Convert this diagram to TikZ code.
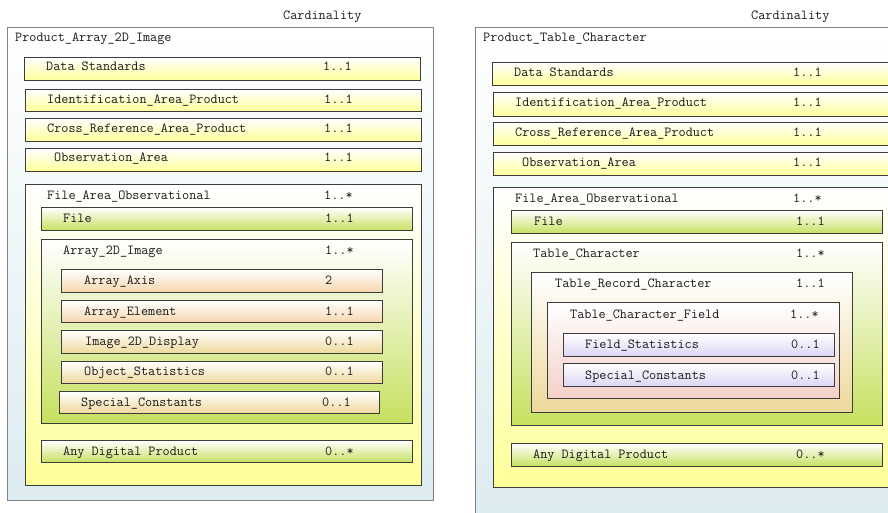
\documentclass[tikz,border=0pt]{standalone}
\usepackage{fontspec}
\definecolor{panelblue}{HTML}{DCEBF0}
\definecolor{panelline}{HTML}{7F7F7F}
\definecolor{boxline}{HTML}{3C3C3C}
\definecolor{itemyellow}{HTML}{FFFF99}
\definecolor{itemgreen}{HTML}{C6E05E}
\definecolor{itempeach}{HTML}{F6D6AC}
\definecolor{itemtan}{HTML}{EED89A}
\definecolor{itempink}{HTML}{F4D0C8}
\definecolor{itemlav}{HTML}{DCD4F4}
\definecolor{textgray}{HTML}{1A1A1A}

\tikzset{
  item/.style={draw=boxline, line width=1pt, rectangle, anchor=north west, inner sep=0pt},
  panel/.style={item, draw=panelline, top color=white, bottom color=panelblue},
  yellowbox/.style={item, top color=white, bottom color=itemyellow},
  greenbox/.style={item, top color=white, bottom color=itemgreen},
  peachbox/.style={item, top color=white, bottom color=itempeach},
  tanbox/.style={item, top color=white, bottom color=itemtan},
  pinkbox/.style={item, top color=white, bottom color=itempink},
  lavbox/.style={item, top color=white, bottom color=itemlav},
  lbl/.style={anchor=base west, inner sep=0pt, text=textgray,
    font=\ttfamily\fontsize{13.8}{16}\selectfont},
}

\begin{document}
\begin{tikzpicture}[x=1pt,y=-1pt]
\useasboundingbox (0,0) rectangle (888,513);
\clip (0,0) rectangle (888,513);

% left: Product_Array_2D_Image
\node (lcard) [lbl] at (283,20) {Cardinality};
\node (lp) [panel, minimum width=426, minimum height=473] at (7,27) {};
\node (lp-t) [lbl] at (15,42) {Product\_Array\_2D\_Image};

\node (lds) [yellowbox, minimum width=396, minimum height=23] at (24,57) {};
\node (lds-t) [lbl] at (46,71) {Data Standards};
\node (lds-c) [lbl] at (323,71) {1..1};
\node (liap) [yellowbox, minimum width=396, minimum height=22] at (25,89) {};
\node (liap-t) [lbl] at (47,104) {Identification\_Area\_Product};
\node (liap-c) [lbl] at (324,104) {1..1};
\node (lcrap) [yellowbox, minimum width=396, minimum height=23] at (25,118) {};
\node (lcrap-t) [lbl] at (47,133) {Cross\_Reference\_Area\_Product};
\node (lcrap-c) [lbl] at (324,133) {1..1};
\node (loa) [yellowbox, minimum width=396, minimum height=23] at (25,148) {};
\node (loa-t) [lbl] at (54,162) {Observation\_Area};
\node (loa-c) [lbl] at (324,162) {1..1};

\node (lfao) [yellowbox, minimum width=396, minimum height=301] at (25,184) {};
\node (lfao-t) [lbl] at (47,199) {File\_Area\_Observational};
\node (lfao-c) [lbl] at (324,199) {1..*};
\node (lfile) [greenbox, minimum width=371, minimum height=23] at (41,207) {};
\node (lfile-t) [lbl] at (63,222) {File};
\node (lfile-c) [lbl] at (325,222) {1..1};

\node (la2d) [greenbox, minimum width=371, minimum height=184] at (41,239) {};
\node (la2d-t) [lbl] at (63,254) {Array\_2D\_Image};
\node (la2d-c) [lbl] at (325,254) {1..*};
\node (lax) [peachbox, minimum width=321, minimum height=23] at (61,269) {};
\node (lax-t) [lbl] at (84,284) {Array\_Axis};
\node (lax-c) [lbl] at (325,284) {2};
\node (lae) [peachbox, minimum width=321, minimum height=22] at (61,300) {};
\node (lae-t) [lbl] at (84,315) {Array\_Element};
\node (lae-c) [lbl] at (325,315) {1..1};
\node (li2d) [tanbox, minimum width=321, minimum height=23] at (61,330) {};
\node (li2d-t) [lbl] at (85,345) {Image\_2D\_Display};
\node (li2d-c) [lbl] at (325,345) {0..1};
\node (los) [tanbox, minimum width=321, minimum height=22] at (61,361) {};
\node (los-t) [lbl] at (84,375) {Object\_Statistics};
\node (los-c) [lbl] at (325,375) {0..1};
\node (lsc) [tanbox, minimum width=320, minimum height=22] at (59,391) {};
\node (lsc-t) [lbl] at (81,406) {Special\_Constants};
\node (lsc-c) [lbl] at (322,406) {0..1};

\node (ladp) [greenbox, minimum width=371, minimum height=22] at (41,440) {};
\node (ladp-t) [lbl] at (63,455) {Any Digital Product};
\node (ladp-c) [lbl] at (325,455) {0..*};

% right: Product_Table_Character
\node (rcard) [lbl] at (751,20) {Cardinality};
\node (rp) [panel, minimum width=430, minimum height=500] at (475,27) {};
\node (rp-t) [lbl] at (483,42) {Product\_Table\_Character};

\node (rds) [yellowbox, minimum width=410, minimum height=23] at (492,62) {};
\node (rds-t) [lbl] at (514,77) {Data Standards};
\node (rds-c) [lbl] at (793,77) {1..1};
\node (riap) [yellowbox, minimum width=410, minimum height=24] at (493,92) {};
\node (riap-t) [lbl] at (515,107) {Identification\_Area\_Product};
\node (riap-c) [lbl] at (793,107) {1..1};
\node (rcrap) [yellowbox, minimum width=410, minimum height=23] at (493,122) {};
\node (rcrap-t) [lbl] at (515,137) {Cross\_Reference\_Area\_Product};
\node (rcrap-c) [lbl] at (793,137) {1..1};
\node (roa) [yellowbox, minimum width=410, minimum height=23] at (493,152) {};
\node (roa-t) [lbl] at (522,167) {Observation\_Area};
\node (roa-c) [lbl] at (793,167) {1..1};

\node (rfao) [yellowbox, minimum width=410, minimum height=300] at (493,187) {};
\node (rfao-t) [lbl] at (515,202) {File\_Area\_Observational};
\node (rfao-c) [lbl] at (793,202) {1..*};
\node (rfile) [greenbox, minimum width=371, minimum height=23] at (511,210) {};
\node (rfile-t) [lbl] at (534,225) {File};
\node (rfile-c) [lbl] at (796,225) {1..1};

\node (rtc) [greenbox, minimum width=371, minimum height=183] at (511,242) {};
\node (rtc-t) [lbl] at (533,257) {Table\_Character};
\node (rtc-c) [lbl] at (796,257) {1..*};
\node (rtrc) [tanbox, minimum width=321, minimum height=140] at (531,272) {};
\node (rtrc-t) [lbl] at (555,287) {Table\_Record\_Character};
\node (rtrc-c) [lbl] at (796,287) {1..1};
\node (rtcf) [pinkbox, minimum width=292, minimum height=96] at (547,302) {};
\node (rtcf-t) [lbl] at (570,318) {Table\_Character\_Field};
\node (rtcf-c) [lbl] at (790,318) {1..*};
\node (rfs) [lavbox, minimum width=271, minimum height=23] at (563,333) {};
\node (rfs-t) [lbl] at (585,348) {Field\_Statistics};
\node (rfs-c) [lbl] at (791,348) {0..1};
\node (rsc) [lavbox, minimum width=271, minimum height=23] at (563,363) {};
\node (rsc-t) [lbl] at (585,379) {Special\_Constants};
\node (rsc-c) [lbl] at (791,379) {0..1};

\node (radp) [greenbox, minimum width=371, minimum height=23] at (511,443) {};
\node (radp-t) [lbl] at (533,458) {Any Digital Product};
\node (radp-c) [lbl] at (796,458) {0..*};
\end{tikzpicture}
\end{document}
